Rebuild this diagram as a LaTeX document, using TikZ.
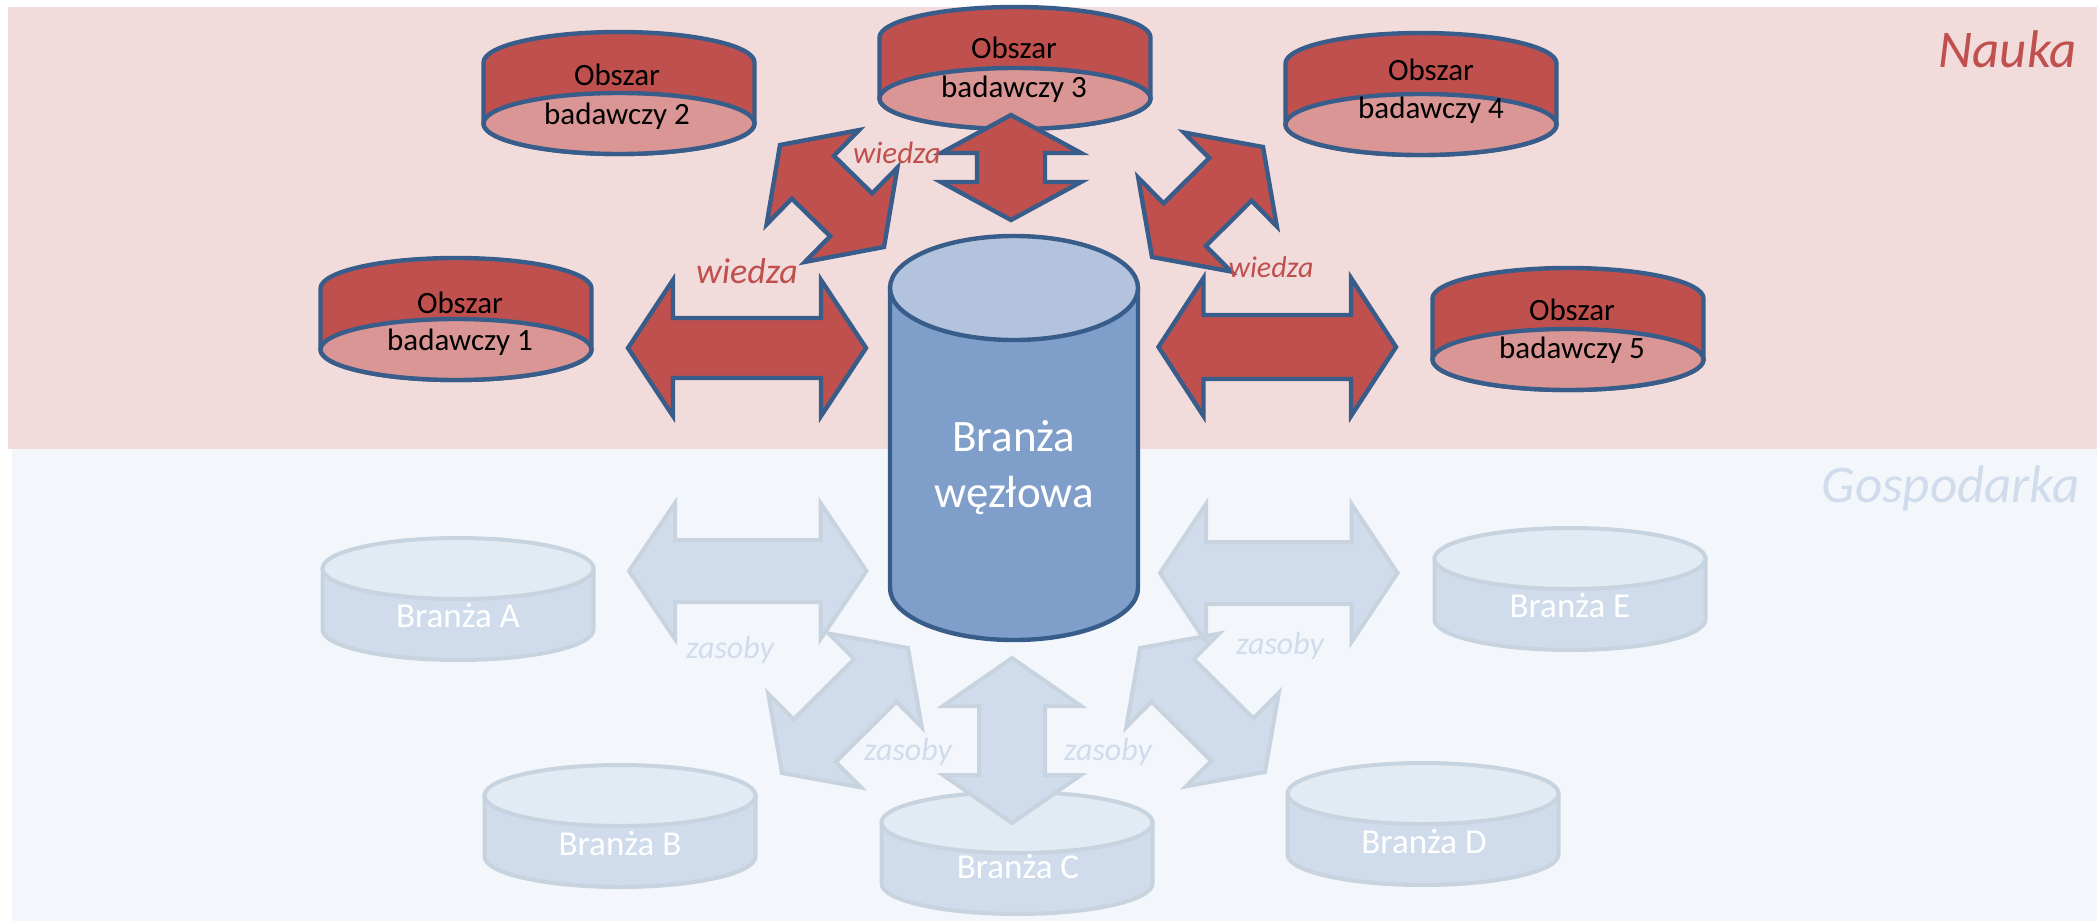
\documentclass[tikz,border=0pt]{standalone}
\usepackage{fontspec}
\setmainfont{Carlito}
\usetikzlibrary{calc}

\definecolor{nred}{HTML}{C0504D}
\definecolor{nredface}{HTML}{D99694}
\definecolor{nline}{HTML}{385D8A}
\definecolor{bandpink}{HTML}{F2DCDB}
\definecolor{bandblue}{HTML}{F3F7FB}
\definecolor{hubtop}{HTML}{B3C3DD}
\definecolor{hubbody}{HTML}{7F9FCA}
\definecolor{lbody}{HTML}{D0DCEB}
\definecolor{lface}{HTML}{E2EAF3}
\definecolor{lline}{HTML}{C8D3E0}
\definecolor{ltext}{HTML}{D0DCEC}

\tikzset{
  scibody/.style={fill=nred, draw=nline, line width=2.2pt},
  sciface/.style={fill=nredface, draw=nline, line width=2.2pt},
  indbody/.style={fill=lbody, draw=lline, line width=2pt},
  indface/.style={fill=lface, draw=lline, line width=2pt},
  hubbodystyle/.style={fill=hubbody, draw=nline, line width=2.2pt},
  hubfacestyle/.style={fill=hubtop, draw=nline, line width=2.2pt},
  redarrow/.style={fill=nred, draw=nline, line width=2.2pt, line join=miter},
  lightarrow/.style={fill=lbody, draw=lline, line width=2pt, line join=miter},
  txt/.style={inner sep=0pt, anchor=base},
  scilbl/.style={txt, text=black, font=\fontsize{15.5pt}{18pt}\selectfont},
  indlbl/.style={txt, text=white, font=\fontsize{17.5pt}{20pt}\selectfont},
  hublbl/.style={txt, text=white, font=\fontsize{22.5pt}{27pt}\selectfont},
  wiedzalbl/.style={txt, text=nred, font=\itshape},
  zasobylbl/.style={txt, text=ltext, font=\itshape\fontsize{16pt}{19pt}\selectfont},
  bandlbl/.style={inner sep=0pt, anchor=base east, font=\itshape\fontsize{26.5pt}{31pt}\selectfont},
}

% research-area cylinder, seen from below: centre x, top y
\newcommand\scicyl[2]{%
  \draw[scibody] ({#1-135.5},{#2+30.5}) arc[start angle=180,end angle=0,x radius=67.75pt,y radius=15.25pt]
    -- ({#1+135.5},{#2+91.5}) arc[start angle=0,end angle=-180,x radius=67.75pt,y radius=15.25pt] -- cycle;
  \draw[sciface] (#1,{#2+91.5}) ellipse[x radius=67.75pt,y radius=15.25pt];}

% industry cylinder, seen from above: centre x, top y
\newcommand\indcyl[2]{%
  \draw[indbody] ({#1-135.5},{#2+30.5}) -- ({#1-135.5},{#2+91.5})
    arc[start angle=180,end angle=360,x radius=67.75pt,y radius=15.25pt]
    -- ({#1+135.5},{#2+30.5}) -- cycle;
  \draw[indface] (#1,{#2+30.5}) ellipse[x radius=67.75pt,y radius=15.25pt];}

% block double arrow: style, tip, tip, head length, head half width, shaft half width
\newcommand\dblarrow[6]{%
  \draw[#1] (#2) -- ($(#2)!#4!(#3)!#5!90:(#3)$) -- ($(#2)!#4!(#3)!#6!90:(#3)$)
    -- ($(#3)!#4!(#2)!#6!-90:(#2)$) -- ($(#3)!#4!(#2)!#5!-90:(#2)$) -- (#3)
    -- ($(#3)!#4!(#2)!#5!90:(#2)$) -- ($(#3)!#4!(#2)!#6!90:(#2)$)
    -- ($(#2)!#4!(#3)!#6!-90:(#3)$) -- ($(#2)!#4!(#3)!#5!-90:(#3)$) -- cycle;}

\begin{document}
\begin{tikzpicture}[x=0.5pt, y=-0.5pt]
\useasboundingbox (0,0) rectangle (2097,921);

% background bands
\fill[white] (0,0) rectangle (2097,921);
\fill[bandpink] (8,7) rectangle (2097,449);
\fill[bandblue] (12,449) rectangle (2097,921);

% research areas
\scicyl{456}{258}
\scicyl{619}{32}
\scicyl{1015}{7}
\scicyl{1421}{33}
\scicyl{1568}{268}

% central industry
\draw[hubbodystyle] (890,288) -- (890,588) arc[start angle=180,end angle=360,x radius=62pt,y radius=26pt] -- (1138,288) -- cycle;
\draw[hubfacestyle] (1014,288) ellipse[x radius=62pt,y radius=26pt];

% other industries
\indcyl{458}{538}
\indcyl{620}{765}
\indcyl{1017}{792}
\indcyl{1423}{763}
\indcyl{1570}{528}

% arrow tips
\coordinate (a1s) at (628,348);   \coordinate (a1e) at (866,348);
\coordinate (a2s) at (780,145);   \coordinate (a2e) at (884,247);
\coordinate (a3s) at (1011,115);  \coordinate (a3e) at (1011,220);
\coordinate (a4s) at (1263,147);  \coordinate (a4e) at (1152,257);
\coordinate (a5s) at (1158.5,347);\coordinate (a5e) at (1396,347);
\coordinate (b1s) at (629,571);   \coordinate (b1e) at (866.5,571);
\coordinate (b2s) at (908,648);   \coordinate (b2e) at (782,773);
\coordinate (b3s) at (1012,658);  \coordinate (b3e) at (1012,823);
\coordinate (b4s) at (1140,648);  \coordinate (b4e) at (1265,772);
\coordinate (b5s) at (1160,573);  \coordinate (b5e) at (1397.5,573);

% knowledge flows
\dblarrow{redarrow}{a1s}{a1e}{22.5pt}{34pt}{15pt}
\dblarrow{redarrow}{a2s}{a2e}{23pt}{33pt}{15pt}
\dblarrow{redarrow}{a3s}{a3e}{19pt}{35pt}{17pt}
\dblarrow{redarrow}{a4s}{a4e}{23pt}{33pt}{15pt}
\dblarrow{redarrow}{a5s}{a5e}{22.5pt}{34.5pt}{16pt}

% resource flows
\dblarrow{lightarrow}{b1s}{b1e}{23pt}{34pt}{15.5pt}
\dblarrow{lightarrow}{b2s}{b2e}{23pt}{33pt}{15pt}
\dblarrow{lightarrow}{b3s}{b3e}{24pt}{34.5pt}{16.5pt}
\dblarrow{lightarrow}{b4s}{b4e}{23pt}{33pt}{15pt}
\dblarrow{lightarrow}{b5s}{b5e}{23pt}{34.5pt}{15.5pt}

% research area labels
\node[scilbl] (o1a) at (460,313) {Obszar};
\node[scilbl] (o1b) at (460,350) {badawczy 1};
\node[scilbl] (o2a) at (617,85) {Obszar};
\node[scilbl] (o2b) at (617,124) {badawczy 2};
\node[scilbl] (o3a) at (1014,58) {Obszar};
\node[scilbl] (o3b) at (1014,97) {badawczy 3};
\node[scilbl] (o4a) at (1431,80) {Obszar};
\node[scilbl] (o4b) at (1431,118) {badawczy 4};
\node[scilbl] (o5a) at (1572,320) {Obszar};
\node[scilbl] (o5b) at (1572,358) {badawczy 5};

% central label
\node[hublbl] (hub1) at (1014,451) {Branża};
\node[hublbl] (hub2) at (1014,507) {węzłowa};

% industry labels
\node[indlbl] (ba) at (458,627) {Branża A};
\node[indlbl] (bb) at (620,855) {Branża B};
\node[indlbl] (bc) at (1018,878) {Branża C};
\node[indlbl] (bd) at (1424,853) {Branża D};
\node[indlbl] (be) at (1570,617) {Branża E};

% flow labels
\node[wiedzalbl, font=\itshape\fontsize{15.5pt}{18pt}\selectfont] (w1) at (897,163) {wiedza};
\node[wiedzalbl, font=\itshape\fontsize{18pt}{21pt}\selectfont] (w2) at (747,283) {wiedza};
\node[wiedzalbl, font=\itshape\fontsize{15pt}{18pt}\selectfont] (w3) at (1271,277) {wiedza};
\node[zasobylbl] (z1) at (730,658) {zasoby};
\node[zasobylbl] (z2) at (908,760) {zasoby};
\node[zasobylbl] (z3) at (1108,760) {zasoby};
\node[zasobylbl] (z4) at (1280,654) {zasoby};

% band titles
\node[bandlbl, text=nred] (nauka) at (2077,67) {Nauka};
\node[bandlbl, text=ltext] (gosp) at (2080,502) {Gospodarka};
\end{tikzpicture}
\end{document}
